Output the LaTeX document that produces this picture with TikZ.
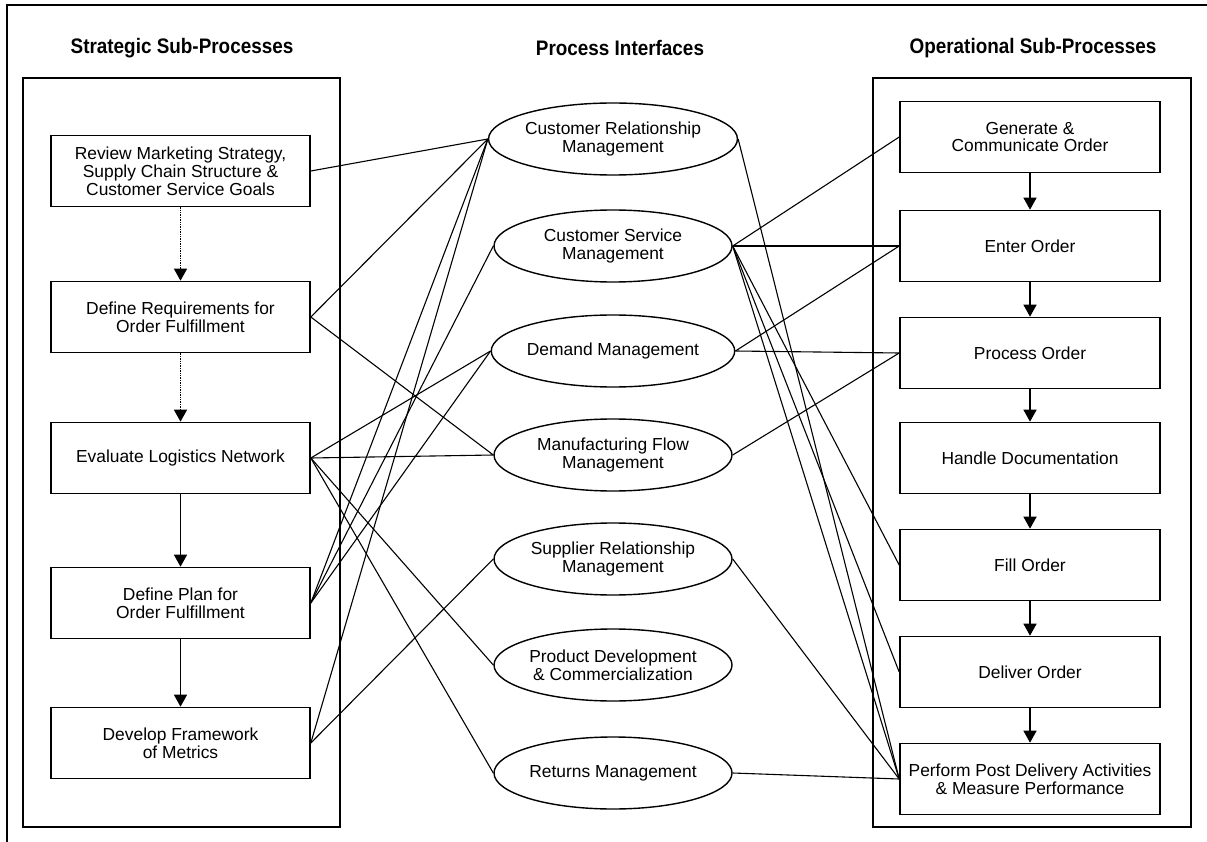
\documentclass[tikz,border=0pt]{standalone}
\usepackage{fontspec}
\setmainfont{Liberation Sans}
\newfontfamily\titlefont[FakeStretch=0.9]{Liberation Sans}
\usetikzlibrary{arrows.meta,shapes.geometric}
\begin{document}
\begin{tikzpicture}[x=1pt,y=-1pt,
  every node/.style={font=\fontsize{17.4}{17.8}\selectfont},
  box/.style={draw,line width=1.6pt,minimum width=259pt,minimum height=71pt,align=center,inner sep=0pt},
  ell/.style={draw,ellipse,line width=1.4pt,minimum width=238pt,minimum height=72pt,align=center,inner sep=0pt},
  panel/.style={draw,line width=1.8pt},
  link/.style={line width=1.1pt},
  flow/.style={line width=1.4pt,-{Triangle[length=12pt,width=13pt]}},
  flowd/.style={flow,densely dotted},
  heading/.style={font=\titlefont\bfseries\fontsize{21}{23}\selectfont}]
\useasboundingbox (0,0) rectangle (1207,842);
\draw[line width=1.8pt] (7,842) -- (7,5) -- (1207,5);
\draw[panel] (23,78) rectangle (340,827);
\draw[panel] (873,78) rectangle (1191,827);
\node[heading] (h1) at (182,48) {Strategic Sub-Processes};
\node[heading] (h2) at (620,48) {Process Interfaces};
\node[heading] (h3) at (1033,48) {Operational Sub-Processes};
% strategic
\node[box] (s1) at (180.5,171) {Review Marketing Strategy,\\Supply Chain Structure \&\\Customer Service Goals};
\node[box] (s2) at (180.5,317) {Define Requirements for\\Order Fulfillment};
\node[box] (s3) at (180.5,458) {Evaluate Logistics Network};
\node[box] (s4) at (180.5,603) {Define Plan for\\Order Fulfillment};
\node[box] (s5) at (180.5,743) {Develop Framework\\of Metrics};
% interfaces
\node[ell] (e1) at (613,139) {Customer Relationship\\Management};
\node[ell] (e2) at (613,246) {Customer Service\\Management};
\node[ell] (e3) at (613,351) {Demand Management};
\node[ell] (e4) at (613,455) {Manufacturing Flow\\Management};
\node[ell] (e5) at (613,559) {Supplier Relationship\\Management};
\node[ell] (e6) at (613,665) {Product Development\\\& Commercialization};
\node[ell] (e7) at (613,773) {Returns Management};
% operational
\node[box,minimum width=260pt] (o1) at (1030,137) {Generate \&\\Communicate Order};
\node[box,minimum width=260pt] (o2) at (1030,246) {Enter Order};
\node[box,minimum width=260pt] (o3) at (1030,353) {Process Order};
\node[box,minimum width=260pt] (o4) at (1030,458) {Handle Documentation};
\node[box,minimum width=260pt] (o5) at (1030,565) {Fill Order};
\node[box,minimum width=260pt] (o6) at (1030,672) {Deliver Order};
\node[box,minimum width=260pt] (o7) at (1030,779) {Perform Post Delivery Activities\\\& Measure Performance};
% flows
\draw[flowd] (s1) -- (s2);
\draw[flowd] (s2) -- (s3);
\draw[flow] (s3) -- (s4);
\draw[flow] (s4) -- (s5);
\draw[flow] (o1) -- (o2);
\draw[flow] (o2) -- (o3);
\draw[flow] (o3) -- (o4);
\draw[flow] (o4) -- (o5);
\draw[flow] (o5) -- (o6);
\draw[flow] (o6) -- (o7);
% left links
\draw[link] (s1.east) -- (e1.west);
\draw[link] (s2.east) -- (e1.west);
\draw[link] (s2.east) -- (e4.west);
\draw[link] (s3.east) -- (e3.west);
\draw[link] (s3.east) -- (e4.west);
\draw[link] (s3.east) -- (e6.west);
\draw[link] (s3.east) -- (e7.west);
\draw[link] (s4.east) -- (e1.west);
\draw[link] (s4.east) -- (e2.west);
\draw[link] (s4.east) -- (e3.west);
\draw[link] (s5.east) -- (e1.west);
\draw[link] (s5.east) -- (e5.west);
% right links
\draw[link] (e1.east) -- (o7.west);
\draw[link] (e2.east) -- (o1.west);
\draw[link] (e2.east) -- (o2.west);
\draw[link] (e2.east) -- (o5.west);
\draw[link] (e2.east) -- (o6.west);
\draw[link] (e2.east) -- (o7.west);
\draw[link] (e3.east) -- (o2.west);
\draw[link] (e3.east) -- (o3.west);
\draw[link] (e4.east) -- (o3.west);
\draw[link] (e5.east) -- (o7.west);
\draw[link] (e7.east) -- (o7.west);
\end{tikzpicture}
\end{document}
